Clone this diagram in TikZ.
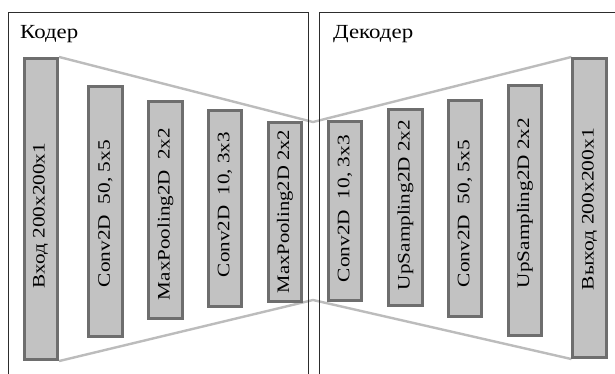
\documentclass[tikz,border=0pt]{standalone}
\usepackage{fontspec}
\setmainfont{Liberation Serif}
\usetikzlibrary{backgrounds}
\definecolor{boxborder}{RGB}{110,110,110}
\definecolor{boxfill}{RGB}{194,194,194}
\definecolor{trapline}{RGB}{188,188,188}
\definecolor{framecol}{RGB}{45,45,45}
\tikzset{
  layer/.style={draw=boxborder, fill=boxfill, line width=2.6pt, rectangle,
    minimum width=33.5pt, inner sep=0pt, font=\fontsize{19.5}{20}\selectfont},
  trap/.style={draw=trapline, line width=2.4pt, line join=round},
  frame/.style={draw=framecol, line width=1pt},
  head/.style={anchor=base west, inner sep=0pt, font=\fontsize{20}{22}\selectfont}
}
\newcommand{\vlab}[2]{\rotatebox{90}{\resizebox{#1pt}{0.9\height}{#2}}}
\begin{document}
\begin{tikzpicture}[x=1pt,y=-1pt]
\useasboundingbox (0,0) rectangle (615,373);
\clip (0,0) rectangle (615,373);
% encoder
\node[layer, minimum height=301.5pt] (b1) at (41,209) {};
\node[layer, minimum height=250.5pt] (b2) at (105.5,211.5) {};
\node[layer, minimum height=217.5pt] (b3) at (165.5,210) {};
\node[layer, minimum height=196.5pt] (b4) at (225,208.5) {};
\node[layer, minimum height=179.5pt] (b5) at (285,212) {};
% decoder
\node[layer, minimum height=179.5pt] (b6) at (345,211) {};
\node[layer, minimum height=196.5pt] (b7) at (405.5,207.5) {};
\node[layer, minimum height=216.5pt] (b8) at (465,208.5) {};
\node[layer, minimum height=250.5pt] (b9) at (525,210.5) {};
\node[layer, minimum height=299.5pt] (b10) at (589.5,208) {};
% labels
\node[font=\fontsize{19.5}{20}\selectfont, inner sep=0pt] (t1) at (40.5,215.5) {\vlab{145}{Вход 200x200x1}};
\node[font=\fontsize{19.5}{20}\selectfont, inner sep=0pt] (t2) at (105.5,213.5) {\vlab{147}{Conv2D\ \ 50, 5x5}};
\node[font=\fontsize{19.5}{20}\selectfont, inner sep=0pt] (t3) at (165.5,214) {\vlab{172}{MaxPooling2D\ \ 2x2}};
\node[font=\fontsize{19.5}{20}\selectfont, inner sep=0pt] (t4) at (225,204.5) {\vlab{145}{Conv2D\ \ 10, 3x3}};
\node[font=\fontsize{19.5}{20}\selectfont, inner sep=0pt] (t5) at (285,211.5) {\vlab{163}{MaxPooling2D 2x2}};
\node[font=\fontsize{19.5}{20}\selectfont, inner sep=0pt] (t6) at (345,208.5) {\vlab{147}{Conv2D\ \ 10, 3x3}};
\node[font=\fontsize{19.5}{20}\selectfont, inner sep=0pt] (t7) at (405.5,205) {\vlab{170}{UpSampling2D 2x2}};
\node[font=\fontsize{19.5}{20}\selectfont, inner sep=0pt] (t8) at (465,213.5) {\vlab{147}{Conv2D\ \ 50, 5x5}};
\node[font=\fontsize{19.5}{20}\selectfont, inner sep=0pt] (t9) at (525,203) {\vlab{170}{UpSampling2D 2x2}};
\node[font=\fontsize{19.5}{20}\selectfont, inner sep=0pt] (t10) at (589.5,209) {\vlab{162}{Выход 200x200x1}};
% headers
\node[head] (kod) at (20,38) {\resizebox{58pt}{\height}{Кодер}};
\node[head] (dek) at (333,38) {\resizebox{80pt}{\height}{Декодер}};
% funnel lines
\coordinate (mt) at (313,122);
\coordinate (mb) at (313,300);
\begin{scope}[on background layer]
\fill[white] (0,0) rectangle (615,373);
\draw[trap] (b1.north east) -- (mt) -- (b10.north west);
\draw[trap] (b1.south east) -- (mb) -- (b10.south west);
\end{scope}
% frames
\coordinate (lf1) at (8,390);
\coordinate (lf2) at (308,12);
\coordinate (lf3) at (308,390);
\coordinate (rf1) at (319,390);
\coordinate (rf2) at (630,12);
\draw[frame] (lf1) |- (lf2) -- (lf3);
\draw[frame] (rf1) |- (rf2);
\end{tikzpicture}
\end{document}
